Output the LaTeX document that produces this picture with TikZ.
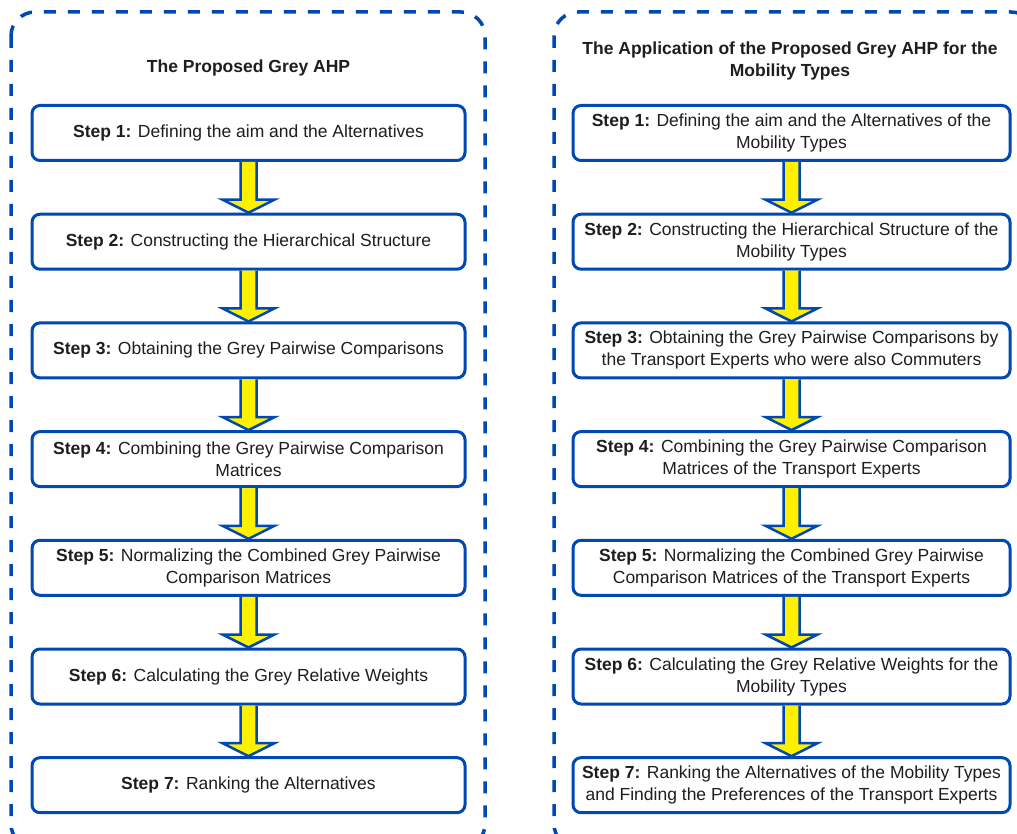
\documentclass[tikz,border=0pt]{standalone}
\usepackage{fontspec}
\setmainfont{Liberation Sans}
\usetikzlibrary{calc}
\definecolor{frameblue}{RGB}{0,72,180}
\definecolor{arrowyellow}{RGB}{255,240,0}
\definecolor{txt}{RGB}{30,30,30}
\tikzset{
  container/.style={draw=frameblue, line width=3.5pt, dash pattern=on 12pt off 12pt, rounded corners=24pt},
  stepbox/.style={draw=frameblue, fill=white, line width=3pt, rounded corners=8pt, minimum height=55pt, align=center, text=txt, font=\fontsize{17.5}{22}\selectfont, inner sep=0pt},
  leftbox/.style={stepbox, minimum width=433pt},
  rightbox/.style={stepbox, minimum width=437pt},
  titletext/.style={align=center, text=txt, font=\fontsize{17.5}{22}\selectfont\bfseries},
  flowarrow/.style={draw=frameblue, fill=arrowyellow, line width=2.5pt, line join=miter}
}
\newcommand\flowarr[2]{%
  \filldraw[flowarrow] ($(#1.south)+(-8,0)$) -- ($(#2.north)+(-8,-13)$) -- ($(#2.north)+(-26,-13)$) -- (#2.north) -- ($(#2.north)+(26,-13)$) -- ($(#2.north)+(8,-13)$) -- ($(#1.south)+(8,0)$);
}
\begin{document}
\begin{tikzpicture}[x=1pt,y=-1pt]
\useasboundingbox (0,0) rectangle (1017,834);
\clip (0,0) rectangle (1017,834);
\fill[white] (0,0) rectangle (1017,834);
% containers
\draw[container] (11,12) rectangle (485,848);
\draw[container] (554,12) rectangle (1035,848);
% titles
\node[titletext] (lt) at (248.5,68) {The Proposed Grey AHP};
\node[titletext] (rt) at (790,61) {The Application of the Proposed Grey AHP for the\\Mobility Types};
% left boxes
\node[leftbox] (l1) at (248.5,133) {\textbf{Step 1:} Defining the aim and the Alternatives};
\node[leftbox] (l2) at (248.5,241.7) {\textbf{Step 2:} Constructing the Hierarchical Structure};
\node[leftbox] (l3) at (248.5,350.4) {\textbf{Step 3:} Obtaining the Grey Pairwise Comparisons};
\node[leftbox] (l4) at (248.5,459.1) {\textbf{Step 4:} Combining the Grey Pairwise Comparison\\Matrices};
\node[leftbox] (l5) at (248.5,567.8) {\textbf{Step 5:} Normalizing the Combined Grey Pairwise\\Comparison Matrices};
\node[leftbox] (l6) at (248.5,676.5) {\textbf{Step 6:} Calculating the Grey Relative Weights};
\node[leftbox] (l7) at (248.5,785.2) {\textbf{Step 7:} Ranking the Alternatives};
% right boxes
\node[rightbox] (r1) at (791.5,133) {\textbf{Step 1:} Defining the aim and the Alternatives of the\\Mobility Types};
\node[rightbox] (r2) at (791.5,241.7) {\textbf{Step 2:} Constructing the Hierarchical Structure of the\\Mobility Types};
\node[rightbox] (r3) at (791.5,350.4) {\textbf{Step 3:} Obtaining the Grey Pairwise Comparisons by\\the Transport Experts who were also Commuters};
\node[rightbox] (r4) at (791.5,459.1) {\textbf{Step 4:} Combining the Grey Pairwise Comparison\\Matrices of the Transport Experts};
\node[rightbox] (r5) at (791.5,567.8) {\textbf{Step 5:} Normalizing the Combined Grey Pairwise\\Comparison Matrices of the Transport Experts};
\node[rightbox] (r6) at (791.5,676.5) {\textbf{Step 6:} Calculating the Grey Relative Weights for the\\Mobility Types};
\node[rightbox] (r7) at (791.5,785.2) {\textbf{Step 7:} Ranking the Alternatives of the Mobility Types\\and Finding the Preferences of the Transport Experts};
% arrows
\flowarr{l1}{l2}\flowarr{l2}{l3}\flowarr{l3}{l4}\flowarr{l4}{l5}\flowarr{l5}{l6}\flowarr{l6}{l7}
\flowarr{r1}{r2}\flowarr{r2}{r3}\flowarr{r3}{r4}\flowarr{r4}{r5}\flowarr{r5}{r6}\flowarr{r6}{r7}
\end{tikzpicture}
\end{document}
